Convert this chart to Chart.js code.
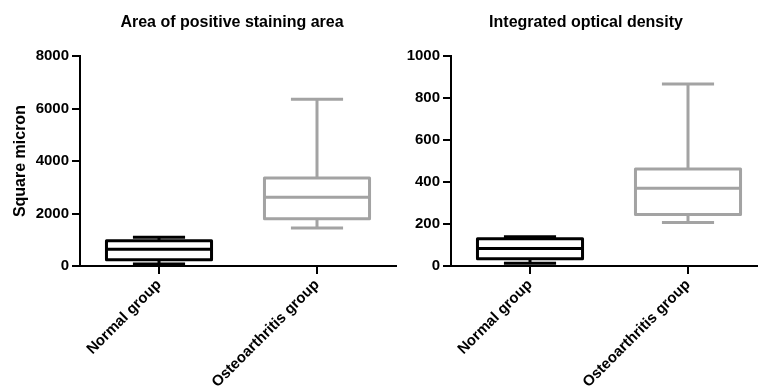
<!DOCTYPE html>
<html>
<head>
<meta charset="utf-8">
<script src="https://cdn.jsdelivr.net/npm/chart.js@4.4.1/dist/chart.umd.min.js"></script>
<style>
  html, body { margin: 0; padding: 0; background: #fff; overflow: hidden; }
  body { width: 758px; height: 390px; position: relative; }
  .wrap { position: absolute; top: 0; height: 390px; }
  #wrapArea { left: 0; width: 464px; }
  #wrapIod { left: 405px; width: 362px; }
</style>
</head>
<body>
<div class="wrap" id="wrapArea"><canvas id="areaChart" width="464" height="390"></canvas></div>
<div class="wrap" id="wrapIod"><canvas id="iodChart" width="362" height="390"></canvas></div>
<script>
// groups and colours
var groups = ['Normal group', 'Osteoarthritis group'];
var groupColors = ['#000000', '#a3a3a3'];

// area of positive staining (square micron)
var areaMin = [80, 1450];
var areaQ1 = [240, 1800];
var areaMedian = [640, 2620];
var areaQ3 = [960, 3360];
var areaMax = [1100, 6360];
var areaTicks = [0, 2000, 4000, 6000, 8000];

// integrated optical density
var iodMin = [13, 207];
var iodQ1 = [34, 245];
var iodMedian = [84, 370];
var iodQ3 = [130, 462];
var iodMax = [140, 868];
var iodTicks = [0, 200, 400, 600, 800, 1000];

Chart.defaults.font.family = 'Arial, "Liberation Sans", sans-serif';
Chart.defaults.font.weight = 'bold';
Chart.defaults.color = '#000';

// box outline, whiskers, caps and median drawn with the chart scales
var boxWhiskers = {
    id: 'boxWhiskers',
    afterDatasetsDraw: function (chart) {
        var o = chart.options.plugins.boxWhiskers;
        var x = chart.scales.x, y = chart.scales.y;
        var ctx = chart.ctx;
        var bars = chart.getDatasetMeta(0).data;
        var step = x.getPixelForValue(1) - x.getPixelForValue(0);
        ctx.save();
        ctx.lineWidth = 3;
        ctx.lineCap = 'butt';
        ctx.lineJoin = 'round';
        for (var i = 0; i < groups.length; i++) {
            var cx = x.getPixelForValue(i);
            var cap = step * 0.33 / 2;
            var bw = bars[i].width / 2;
            var yMin = y.getPixelForValue(o.min[i]);
            var yQ1 = y.getPixelForValue(o.q1[i]);
            var yMed = y.getPixelForValue(o.median[i]);
            var yQ3 = y.getPixelForValue(o.q3[i]);
            var yMax = y.getPixelForValue(o.max[i]);
            ctx.strokeStyle = groupColors[i];
            ctx.beginPath();
            ctx.rect(cx - bw, yQ3, bw * 2, yQ1 - yQ3);
            ctx.stroke();
            ctx.beginPath();
            // upper whisker + cap
            ctx.moveTo(cx, yQ3);
            ctx.lineTo(cx, yMax);
            ctx.moveTo(cx - cap, yMax);
            ctx.lineTo(cx + cap, yMax);
            // lower whisker + cap
            ctx.moveTo(cx, yQ1);
            ctx.lineTo(cx, yMin);
            ctx.moveTo(cx - cap, yMin);
            ctx.lineTo(cx + cap, yMin);
            // median
            ctx.moveTo(cx - bw, yMed);
            ctx.lineTo(cx + bw, yMed);
            ctx.stroke();
        }
        ctx.restore();
    }
};

function makeBoxChart(id, title, yTitle, mins, q1s, medians, q3s, maxs, ticks, yWidth, rightWidth) {
    var boxes = groups.map(function (g, i) { return [q1s[i], q3s[i]]; });
    return new Chart(document.getElementById(id), {
        type: 'bar',
        data: {
            labels: groups,
            datasets: [{
                data: boxes,
                yAxisID: 'y',
                backgroundColor: 'rgba(255,255,255,0)',
                borderWidth: 0,
                barPercentage: 0.665,
                categoryPercentage: 1
            }]
        },
        options: {
            responsive: false,
            maintainAspectRatio: false,
            animation: false,
            devicePixelRatio: 1,
            layout: { padding: 0 },
            plugins: {
                legend: { display: false },
                tooltip: { enabled: false },
                title: {
                    display: true,
                    text: title,
                    color: '#000',
                    font: { size: 16, weight: 'bold' },
                    padding: { top: 13, bottom: 24 }
                },
                boxWhiskers: { min: mins, q1: q1s, median: medians, q3: q3s, max: maxs }
            },
            scales: {
                x: {
                    offset: true,
                    grid: { display: true, drawOnChartArea: false, drawTicks: true, tickLength: 8, offset: false, color: '#000', lineWidth: 2 },
                    border: { display: true, color: '#000', width: 2 },
                    ticks: { autoSkip: false, minRotation: 45, maxRotation: 45, padding: 2, font: { size: 15, weight: 'bold' }, color: '#000' },
                    afterFit: function (scale) { scale.height = 124; }
                },
                y: {
                    min: ticks[0],
                    max: ticks[ticks.length - 1],
                    afterBuildTicks: function (scale) {
                        scale.ticks = ticks.map(function (v) { return { value: v }; });
                    },
                    grid: { display: true, drawOnChartArea: false, drawTicks: true, tickLength: 8, color: '#000', lineWidth: 2 },
                    border: { display: true, color: '#000', width: 2 },
                    ticks: {
                        padding: 3,
                        font: { size: 15, weight: 'bold' },
                        color: '#000',
                        callback: function (v) { return String(v); }
                    },
                    title: {
                        display: yTitle !== '',
                        text: yTitle,
                        color: '#000',
                        font: { size: 16, weight: 'bold' },
                        padding: { top: 11, bottom: 4 }
                    },
                    afterFit: function (scale) { scale.width = yWidth; }
                },
                // empty spacer on the right so the title is centred on the whole panel
                spacer: {
                    type: 'linear',
                    position: 'right',
                    display: rightWidth > 0,
                    grid: { display: false },
                    border: { display: false },
                    ticks: { display: false },
                    afterFit: function (scale) { scale.width = rightWidth; }
                }
            }
        },
        plugins: [boxWhiskers]
    });
}

makeBoxChart('areaChart', 'Area of positive staining area', 'Square micron',
    areaMin, areaQ1, areaMedian, areaQ3, areaMax, areaTicks, 80, 68);
makeBoxChart('iodChart', 'Integrated optical density', '',
    iodMin, iodQ1, iodMedian, iodQ3, iodMax, iodTicks, 46, 0);
</script>
</body>
</html>
